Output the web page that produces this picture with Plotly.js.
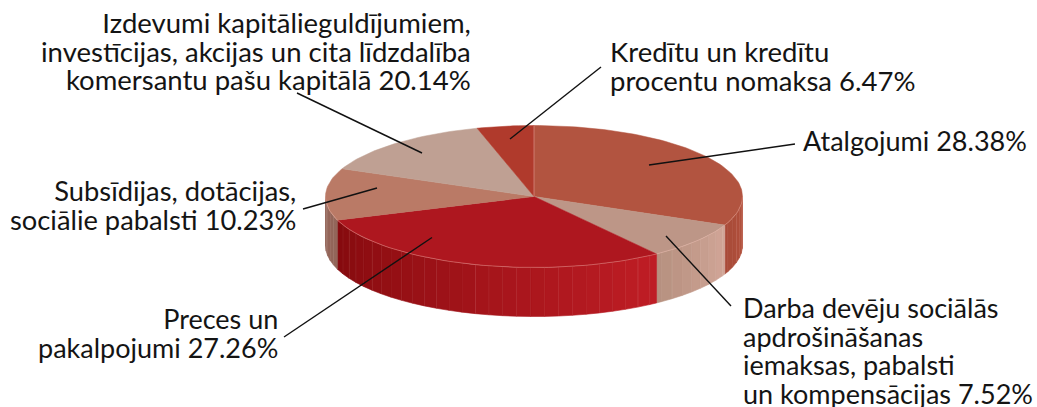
<!DOCTYPE html>
<html><head><meta charset="utf-8">
<script src="https://cdn.plot.ly/plotly-3.0.1.min.js"></script>
<style>html,body{margin:0;padding:0;background:#fff}#c{width:1037px;height:407px}</style></head>
<body><div id="c"></div>
<script>
// Data
var categories = ["Atalgojumi","Darba devēju sociālās apdrošināšanas iemaksas, pabalsti un kompensācijas","Preces un pakalpojumi","Subsīdijas, dotācijas, sociālie pabalsti","Izdevumi kapitālieguldījumiem, investīcijas, akcijas un cita līdzdalība komersantu pašu kapitālā","Kredītu un kredītu procentu nomaksa"];
var values = [28.38,7.52,27.26,10.23,20.14,6.47];
// share of the full turn each slice covers as drawn (the perspective of the picture distorts them)
var drawnShares = [31.6,8.4,29.6,11.8,14.2,4.4];
var topColors = ["#b25440","#bd9687","#ae171f","#ba7a66","#bfa093","#b03a2c"];
var wallStart = ["#b5533f","#d2a698","#bf1d25","#93665a","#bfa093","#b03a2c"];
var wallEnd   = ["#a84a38","#b6907f","#850a0e","#93665a","#bfa093","#b03a2c"];

// Geometry of the disc
var cx=534, cy=196.5, rx=208.5, ry=71, depth=49, step=3.85, rad=Math.PI/180;
function px(t){return cx+rx*Math.sin(t*rad);}
function py(t,z){return cy-ry*Math.cos(t*rad)+(z||0);}
function hex(c){return [1,3,5].map(function(i){return parseInt(c.substr(i,2),16);});}
function mix(a,b,f){var A=hex(a),B=hex(b);return 'rgb('+A.map(function(v,i){return Math.round(v+(B[i]-v)*f);}).join(',')+')';}

var traces=[], edges=[0];
drawnShares.forEach(function(s,i){edges.push(edges[i]+s*3.6);});
edges[edges.length-1]=360;

// Wall
var vis0=90, vis1=270;
drawnShares.forEach(function(s,i){
  var a=Math.max(edges[i],vis0), b=Math.min(edges[i+1],vis1);
  if(b<=a) return;
  var t=a;
  while(t<b-1e-6){
    var n=Math.min(Math.floor(t/step+1e-6)*step+step,b);
    var xs=[],ys=[],k,m=3;
    for(k=0;k<=m;k++){var q=t+(n-t)*k/m;xs.push(px(q));ys.push(py(q));}
    for(k=m;k>=0;k--){var q2=t+(n-t)*k/m;xs.push(px(q2));ys.push(py(q2,depth));}
    xs.push(xs[0]);ys.push(ys[0]);
    var col=mix(wallStart[i],wallEnd[i],((t+n)/2-a)/(b-a));
    traces.push({x:xs,y:ys,mode:'lines',fill:'toself',fillcolor:col,line:{color:col,width:0.6},hoverinfo:'skip',showlegend:false});
    if(n<b){
      var idx=Math.round(n/step);
      traces.push({x:[px(n),px(n)],y:[py(n),py(n,depth)],mode:'lines',line:{color:idx%3==0?'rgba(255,225,215,0.3)':'rgba(255,225,215,0.12)',width:1},hoverinfo:'skip',showlegend:false});
    }
    t=n;
  }
});

// Top face
drawnShares.forEach(function(s,i){
  var xs=[cx],ys=[cy],n=Math.max(8,Math.ceil((edges[i+1]-edges[i])/1.5));
  for(var k=0;k<=n;k++){var q=edges[i]+(edges[i+1]-edges[i])*k/n;xs.push(px(q));ys.push(py(q));}
  xs.push(cx);ys.push(cy);
  traces.push({x:xs,y:ys,mode:'lines',fill:'toself',fillcolor:topColors[i],line:{color:topColors[i],width:0.5},name:categories[i],text:values[i]+'%',hoverinfo:'skip',showlegend:false});
});
// Rim highlight along the front
var rimX=[],rimY=[];
for(var r=vis0;r<=vis1;r+=2){rimX.push(px(r));rimY.push(py(r));}
traces.push({x:rimX,y:rimY,mode:'lines',line:{color:'rgba(255,200,190,0.35)',width:1},hoverinfo:'skip',showlegend:false});
traces.push({x:[cx,cx],y:[cy,py(0)],mode:'lines',line:{color:'rgba(255,215,205,0.4)',width:1},hoverinfo:'skip',showlegend:false});

// Leader lines
var leaders=[[297,93,422,153],[601,67,510,139],[795,144,649,165],[731,306,666,236],[284,337,432,237.5],[303,209,377,188]];
var shapes=leaders.map(function(l){return {type:'line',xref:'x',yref:'y',x0:l[0],y0:l[1],x1:l[2],y1:l[3],line:{color:'#111',width:1.4}};});

// Labels: the annotation font sets the line spacing, the inner span the glyph size
var F="Lato, sans-serif", LINE=22;
function lbl(lines,x,anchor,ymid,glyph){
  var txt=lines.map(function(t){return '<span style="font-size:'+glyph+'px">'+t+'</span>';}).join('<br>');
  return {text:txt,x:x,y:ymid,xref:'x',yref:'y',showarrow:false,xanchor:anchor,align:anchor,yanchor:'middle',borderpad:0,font:{family:F,size:LINE,color:'#141414'}};
}
var ann=[
 lbl(["Izdevumi kapitālieguldījumiem,","investīcijas, akcijas un cita līdzdalība","komersantu pašu kapitālā "+values[4]+"%"],472,'right',51,27.5),
 lbl(["Kredītu un kredītu","procentu nomaksa "+values[5]+"%"],609,'left',66,27.5),
 lbl(["Atalgojumi "+values[0]+"%"],802,'left',140,27),
 lbl(["Darba devēju sociālās","apdrošināšanas","iemaksas, pabalsti","un kompensācijas "+values[1]+"%"],742,'left',350,27),
 lbl(["Preces un","pakalpojumi "+values[2]+"%"],279,'right',333,27),
 lbl(["Subsīdijas, dotācijas,","sociālie pabalsti "+values[3]+"%"],297,'right',204.5,27.3)
];

Plotly.newPlot('c',traces,{
  width:1037,height:407,margin:{l:0,r:0,t:0,b:0},paper_bgcolor:'#fff',plot_bgcolor:'#fff',
  xaxis:{range:[0,1037],visible:false,fixedrange:true},
  yaxis:{range:[407,0],visible:false,fixedrange:true},
  showlegend:false,hovermode:false,shapes:shapes,annotations:ann
},{displayModeBar:false,staticPlot:true});
</script></body></html>
